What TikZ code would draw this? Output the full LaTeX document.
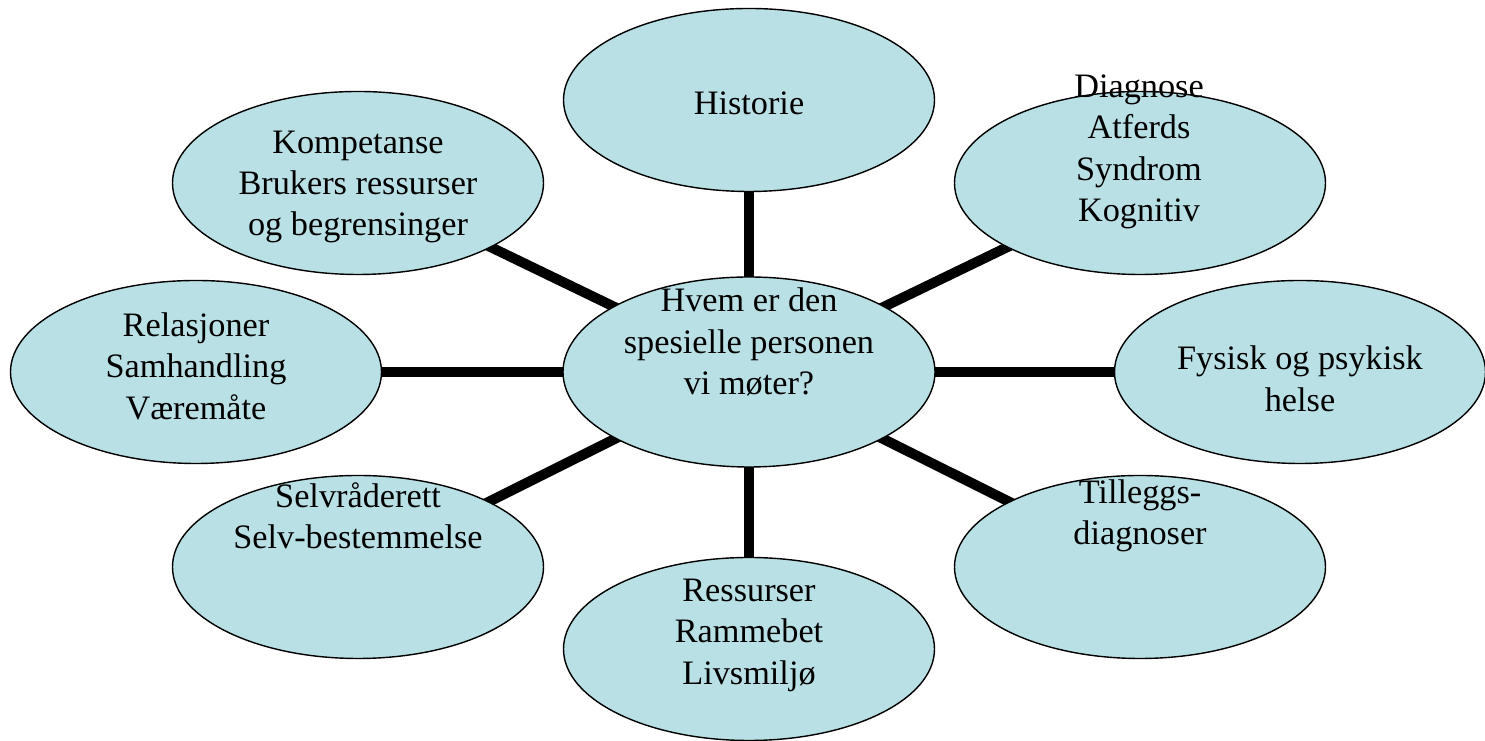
\documentclass[tikz,border=0pt]{standalone}
\usepackage{fontspec}
\setmainfont{Liberation Serif}
\usetikzlibrary{shapes.geometric,backgrounds}
\definecolor{bubblefill}{RGB}{185,224,228}
\tikzset{
	bubble/.style={ellipse, draw=black, line width=0.8pt, fill=bubblefill,
		minimum width=7.42cm, minimum height=3.66cm, inner sep=0pt},
	bubbletxt/.style={align=center, inner sep=0pt,
		font=\fontsize{19.5}{23.6}\selectfont},
	spoke/.style={line width=5.7pt, color=black}
}

\begin{document}
\begin{tikzpicture}
		%%%%% START %%%%%
		
		\useasboundingbox (0, 0) rectangle (29.7, 14.82);
		
		% ellipses
		\node[bubble, minimum width=7.44cm, minimum height=3.8cm] (mid) at (14.98, 7.38) {};
		\node[bubble] (hist) at (14.98, 12.82) {};
		\node[bubble] (diag) at (22.80, 11.16) {};
		\node[bubble] (komp) at (7.16, 11.16) {};
		\node[bubble] (rel) at (3.92, 7.38) {};
		\node[bubble] (fys) at (26.0, 7.38) {};
		\node[bubble] (selv) at (7.16, 3.48) {};
		\node[bubble] (till) at (22.80, 3.48) {};
		\node[bubble] (ress) at (14.98, 1.84) {};
		
		% spokes
		\begin{scope}[on background layer]
		\draw[spoke] (mid.center) -- (hist.center);
		\draw[spoke] (mid.center) -- (diag.center);
		\draw[spoke] (mid.center) -- (komp.center);
		\draw[spoke] (mid.center) -- (rel.center);
		\draw[spoke] (mid.center) -- (fys.center);
		\draw[spoke] (mid.center) -- (selv.center);
		\draw[spoke] (mid.center) -- (till.center);
		\draw[spoke] (mid.center) -- (ress.center);
		\end{scope}
		
		% texts
		\node[bubbletxt] (mid-txt) at (14.98, 7.98) {Hvem er den\\spesielle personen\\vi møter?};
		\node[bubbletxt] (hist-txt) at (14.98, 12.76) {Historie};
		\node[bubbletxt] (diag-txt) at (22.78, 11.78) {Diagnose\\Atferds\\Syndrom\\Kognitiv};
		\node[bubbletxt] (komp-txt) at (7.16, 11.08) {Kompetanse\\Brukers ressurser\\og begrensinger};
		\node[bubbletxt] (rel-txt) at (3.92, 7.50) {Relasjoner\\Samhandling\\Væremåte};
		\node[bubbletxt] (fys-txt) at (26.0, 7.24) {Fysisk og psykisk\\helse};
		\node[bubbletxt] (selv-txt) at (7.16, 4.50) {Selvråderett\\Selv-bestemmelse};
		\node[bubbletxt] (till-txt) at (22.80, 4.50) {Tilleggs-\\diagnoser};
		\node[bubbletxt] (ress-txt) at (14.98, 2.12) {Ressurser\\Rammebet\\Livsmiljø};
		
		%%%%% END %%%%%
	\end{tikzpicture}
\end{document}
